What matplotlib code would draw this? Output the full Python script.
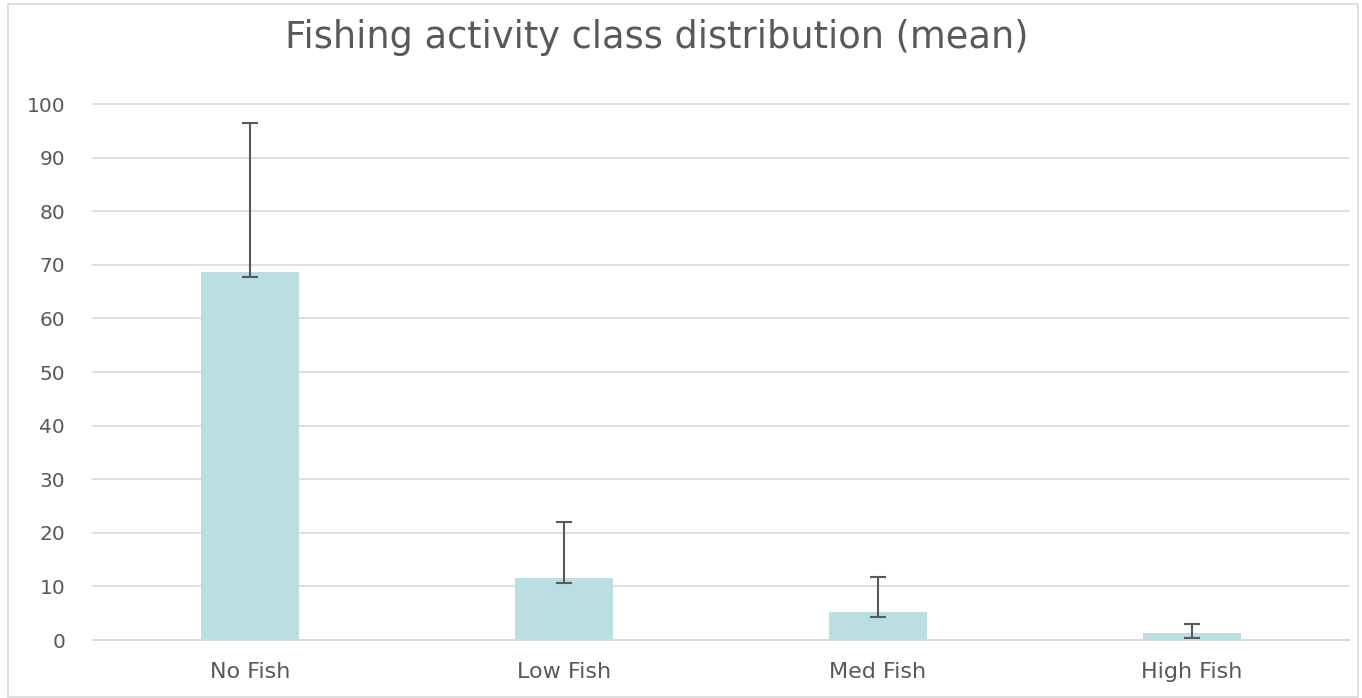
import matplotlib.pyplot as plt
from matplotlib.patches import Rectangle

# Fishing activity class means with asymmetric error bars
categories = ["No Fish", "Low Fish", "Med Fish", "High Fish"]
means = [68.7, 11.6, 5.3, 1.25]
err_low = [1.0, 0.9, 1.0, 0.8]
err_high = [27.8, 10.5, 6.5, 1.8]

plt.rcParams['font.family'] = ['DejaVu Sans']
text_color = '#595959'

fig = plt.figure(figsize=(13.62, 6.98), dpi=100)
ax = fig.add_axes([93 / 1362, 1 - 640 / 698, 1256 / 1362, 536 / 698])

x = range(len(categories))
ax.bar(x, means, width=0.315, color='#b9dfe2', zorder=2)
ax.errorbar(x, means, yerr=[err_low, err_high], fmt='none', ecolor='#595959',
            elinewidth=1.5, capsize=6, capthick=1.5, zorder=3)

ax.set_xlim(-0.5, len(categories) - 0.5)
ax.set_ylim(0, 100)
ax.set_yticks(range(0, 101, 10))
ax.set_xticks(list(x))
ax.set_xticklabels(categories)
ax.grid(axis='y', color='#d9d9d9', linewidth=1.2, zorder=0)
for line in ax.get_ygridlines():
    line.set_clip_on(False)
ax.tick_params(axis='both', length=0, colors=text_color)
ax.tick_params(axis='x', pad=16, labelsize=16)
ax.tick_params(axis='y', pad=20, labelsize=14.5)
for side in ['top', 'right', 'left']:
    ax.spines[side].set_visible(False)
ax.spines['bottom'].set_color('#d9d9d9')
ax.spines['bottom'].set_linewidth(1.2)

fig.text(657 / 1362, 1 - 37 / 698, 'Fishing activity class distribution (mean)',
         ha='center', va='center', fontsize=26.5, color=text_color)

# light chart border
fig.patches.append(Rectangle((8 / 1362, 0.002), 1350 / 1362, 1 - 4 / 698 - 0.002,
                             transform=fig.transFigure, fill=False,
                             edgecolor='#d9d9d9', linewidth=1.2))

fig.savefig('out.png', dpi=100)
